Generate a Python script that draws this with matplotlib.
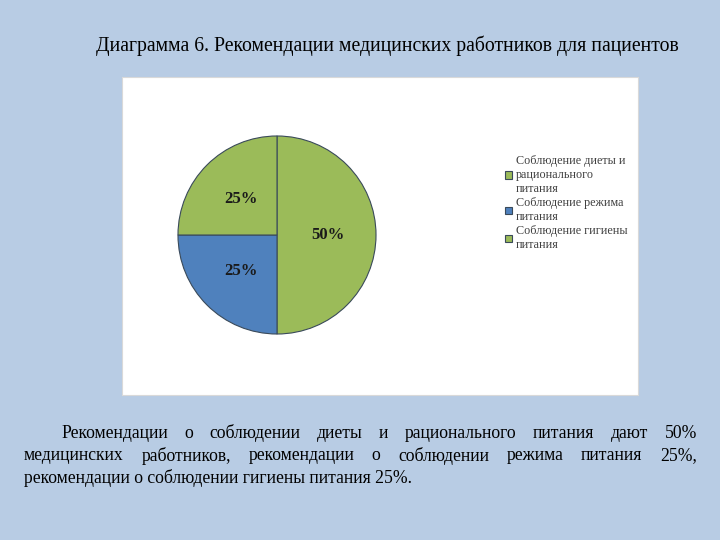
import matplotlib
matplotlib.use("Agg")
import matplotlib.pyplot as plt

# ---- data ----
labels = ["Соблюдение диеты и\nрационального\nпитания",
          "Соблюдение режима\nпитания",
          "Соблюдение гигиены\nпитания"]
values = [50, 25, 25]
colors = ["#9bbb59", "#4f81bd", "#9bbb59"]

title = "Диаграмма 6. Рекомендации медицинских работников для пациентов"
body_lines = [
    "Рекомендации о соблюдении диеты и рационального питания дают 50%",
    "медицинских работников, рекомендации о соблюдении режима питания 25%,",
    "рекомендации о соблюдении гигиены питания 25%.",
]

W, H = 720, 540
plt.rcParams['font.family'] = ['Liberation Serif', 'DejaVu Serif']
fig = plt.figure(figsize=(W / 100, H / 100), dpi=100)
fig.patch.set_facecolor("#b8cce4")

# white chart box
box = fig.add_axes([122 / W, 1 - 395 / H, (638 - 122) / W, (395 - 77) / H])
box.set_facecolor("white")
box.set_xticks([])
box.set_yticks([])
for s in box.spines.values():
    s.set_color("#d9d9d9")

# pie
cx, cy, r = 277, 235, 100
ax = fig.add_axes([(cx - r) / W, 1 - (cy + r) / H, 2 * r / W, 2 * r / H])
wedges, _, autotexts = ax.pie(values, colors=colors, startangle=90, counterclock=False,
                              autopct="%d%%", pctdistance=0.51,
                              wedgeprops=dict(edgecolor="#3a4a5a", linewidth=0.8))
for t in autotexts:
    t.set_fontsize(12)
    t.set_fontweight("bold")
    t.set_color("#1a1a1a")
ax.set_xlim(-1.01, 1.01)
ax.set_ylim(-1.01, 1.01)
ax.set_aspect("equal")

leg = fig.legend(wedges, labels, loc="upper left", bbox_to_anchor=(500 / W, 1 - 150 / H),
                 frameon=False, fontsize=8.7, handlelength=0.6, handleheight=0.6,
                 handletextpad=0.3, labelspacing=0.15, borderaxespad=0)
for t in leg.get_texts():
    t.set_color("#404040")
    t.set_linespacing(1.25)

fig.text(96 / W, 1 - 46 / H, title, fontsize=14.25, va="center", ha="left", color="black")

# justified body text
renderer = fig.canvas.get_renderer()
line_y = [433, 456, 478]
starts = [61, 24, 24]
right = 697
for i, line in enumerate(body_lines):
    y = 1 - line_y[i] / H
    words = line.split(" ")
    if i == len(body_lines) - 1:
        fig.text(starts[i] / W, y, line, fontsize=12.7, va="center", ha="left")
        continue
    objs = [fig.text(0, y, w_, fontsize=12.7, va="center", ha="left") for w_ in words]
    widths = [o.get_window_extent(renderer).width for o in objs]
    gap = (right - starts[i] - sum(widths)) / (len(words) - 1)
    x = starts[i]
    for o, w_ in zip(objs, widths):
        o.set_x(x / W)
        x += w_ + gap

fig.savefig("out.png", dpi=100, facecolor=fig.get_facecolor())
